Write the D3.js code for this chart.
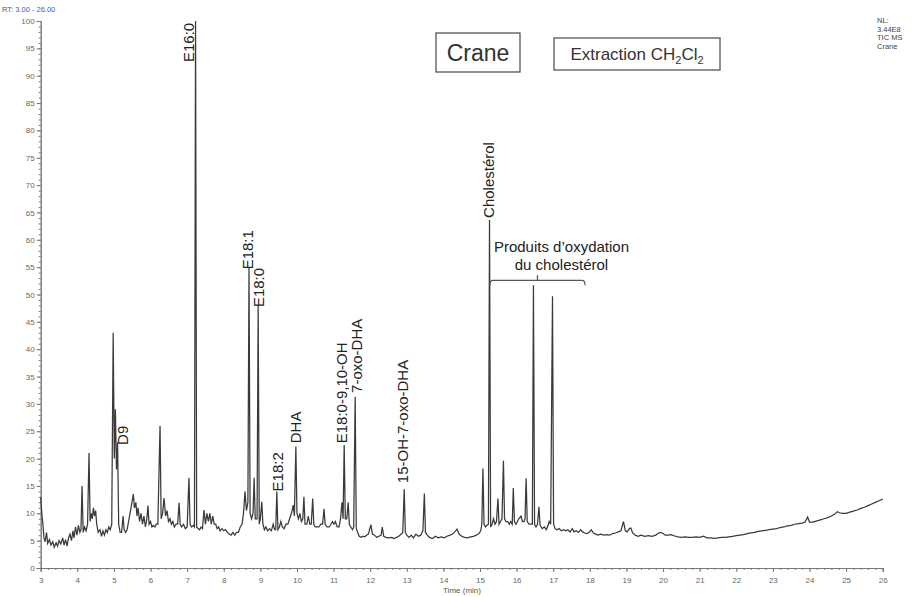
<!doctype html>
<html>
<head>
<meta charset="utf-8">
<style>
  body { margin: 0; background: #fff; }
  svg { font-family: "Liberation Sans", Arial, sans-serif; }
  .axis path, .axis line { stroke: #777; }
  .axis text { fill: #666; font-size: 8px; }
  .trace { fill: none; stroke: #3a3a3a; stroke-width: 1.25; }
  .lbl { fill: #222; font-size: 15px; }
</style>
<script src="https://d3js.org/d3.v7.min.js"></script>
</head>
<body>
<script>
// chromatogram trace: [retention time (min), relative abundance (%)]
var trace = [
  [3.00,13],[3.03,10],[3.06,8],[3.09,5.5],[3.12,4.8],[3.16,6.5],[3.19,4.5],[3.24,5.2],[3.28,4.2],[3.33,4.8],
  [3.37,3.8],[3.42,4.6],[3.46,4.0],[3.50,5.0],[3.55,4.4],[3.60,5.5],[3.64,4.2],[3.68,5.2],[3.72,4.0],[3.76,5.5],
  [3.80,6.2],[3.84,5.0],[3.88,6.8],[3.91,5.5],[3.95,7.5],[3.99,6.0],[4.03,7.8],[4.07,6.5],[4.10,7.0],[4.13,15],
  [4.16,6.5],[4.20,7.5],[4.24,6.8],[4.28,8.0],[4.32,21],[4.35,8.5],[4.38,10],[4.41,9],[4.44,11],[4.47,9.5],
  [4.50,10.5],[4.53,8],[4.57,6.5],[4.62,7],[4.66,5.8],[4.70,6.8],[4.74,6.0],[4.78,7.0],[4.82,6.5],[4.86,7.5],
  [4.90,7.0],[4.94,8],[4.98,43],[5.01,20],[5.04,29],[5.07,18],[5.10,23],[5.13,8],[5.17,6.5],[5.21,6.5],
  [5.25,9.5],[5.28,7],[5.32,6.5],[5.36,7],[5.40,8.5],[5.44,10],[5.48,11.5],[5.53,13.5],[5.56,11],[5.60,12],
  [5.63,9.5],[5.66,11],[5.70,8.5],[5.74,10],[5.78,8],[5.82,9.5],[5.86,7.5],[5.90,9],[5.93,11.4],[5.96,8],
  [6.00,8.5],[6.04,7.5],[6.08,7.8],[6.12,7.5],[6.16,8],[6.20,8],[6.26,26],[6.29,9],[6.33,10],[6.37,12.8],
  [6.41,9.5],[6.45,10.5],[6.49,8.5],[6.53,9],[6.57,8],[6.61,8.5],[6.65,7.5],[6.70,8],[6.74,8],[6.78,11.9],
  [6.81,8],[6.85,7.5],[6.90,8],[6.95,7.2],[7.00,7.5],[7.05,16.5],[7.08,8],[7.12,7.5],[7.17,7.8],[7.20,7.5],
  [7.23,100],[7.26,7.5],[7.30,7.2],[7.34,7.0],[7.38,7.5],[7.42,7.2],[7.46,10.6],[7.50,8],[7.54,10],[7.58,8.5],
  [7.62,10],[7.66,8],[7.70,9.5],[7.74,8],[7.78,8],[7.82,7.2],[7.86,7.5],[7.90,6.8],[7.95,7.2],[8.00,6.8],
  [8.05,7.0],[8.10,6.5],[8.15,6.2],[8.20,6.0],[8.25,6.5],[8.30,6.0],[8.35,6.5],[8.40,6.5],[8.45,7.5],[8.50,8],
  [8.54,10],[8.58,14],[8.62,10.5],[8.66,12],[8.69,55],[8.72,10],[8.76,9],[8.80,10],[8.83,16.5],[8.86,9],
  [8.91,9],[8.94,48],[8.97,8],[9.00,9],[9.04,12.1],[9.07,8],[9.11,7],[9.15,7.5],[9.20,6.8],[9.25,7.2],
  [9.30,6.8],[9.35,8],[9.39,7],[9.42,7],[9.45,14],[9.48,7],[9.52,7.5],[9.56,8.5],[9.60,7.5],[9.65,7.2],
  [9.70,8],[9.75,8],[9.80,9],[9.85,10],[9.90,11.5],[9.93,9.5],[9.97,22.2],[10.00,10],[10.04,9],[10.08,10],
  [10.12,8.5],[10.16,9],[10.19,13],[10.22,8],[10.27,8],[10.31,9.5],[10.35,8],[10.39,8],[10.43,12.7],[10.46,8],
  [10.50,7.5],[10.55,7.5],[10.60,7.5],[10.65,8],[10.70,8],[10.74,10.8],[10.77,8],[10.82,7.5],[10.88,7.5],[10.93,8],
  [10.97,8.5],[11.01,8],[11.05,8.5],[11.10,7.5],[11.15,7.5],[11.19,9],[11.23,12],[11.26,9],[11.29,22.5],[11.32,9],
  [11.36,9],[11.40,12],[11.43,8],[11.47,7.5],[11.52,7],[11.55,7.5],[11.59,31.3],[11.62,7.2],[11.66,6.5],[11.70,5.8],
  [11.75,5.6],[11.80,5.8],[11.85,5.7],[11.90,6],[11.95,6.2],[12.02,7.9],[12.06,6.2],[12.12,6.0],[12.18,5.6],[12.24,5.8],
  [12.30,6.0],[12.33,7.5],[12.37,5.8],[12.43,5.6],[12.50,5.5],[12.58,5.6],[12.65,5.4],[12.72,5.6],[12.78,5.8],[12.85,6.2],
  [12.89,6.5],[12.93,14.4],[12.96,6.5],[13.00,6.0],[13.06,5.6],[13.12,6.0],[13.18,5.5],[13.25,6.2],[13.32,5.8],[13.38,6.0],
  [13.44,6.8],[13.48,13.6],[13.51,6.5],[13.56,6.0],[13.62,5.6],[13.70,5.4],[13.78,5.8],[13.86,5.5],[13.94,5.7],[14.02,5.5],
  [14.10,5.8],[14.18,6.0],[14.25,6.2],[14.31,6.6],[14.37,7.1],[14.43,6.2],[14.50,5.8],[14.58,5.6],[14.66,5.5],[14.74,5.7],
  [14.82,5.8],[14.90,6.0],[14.97,6.3],[15.02,6.8],[15.05,8],[15.08,18.2],[15.11,8],[15.15,7.5],[15.19,7.8],[15.23,8],
  [15.26,63.6],[15.29,7.5],[15.33,8],[15.37,9],[15.41,8],[15.45,8.5],[15.49,12.7],[15.52,8],[15.56,8.5],[15.60,9],
  [15.64,19.6],[15.67,9],[15.71,8.5],[15.76,8.5],[15.80,8],[15.84,8.5],[15.88,8],[15.91,14.6],[15.94,8.5],[15.98,8],
  [16.02,8.5],[16.06,9],[16.12,9.5],[16.16,8.5],[16.20,8.5],[16.23,9],[16.26,16.4],[16.29,8.5],[16.34,8],[16.39,8],
  [16.43,8],[16.46,51.7],[16.49,8],[16.53,7.5],[16.57,8],[16.61,11.2],[16.64,7.8],[16.70,7.2],[16.76,7.5],[16.81,7],
  [16.86,7.8],[16.89,8.5],[16.93,8],[16.98,49.7],[17.01,8],[17.05,7.2],[17.10,7.0],[17.16,7.2],[17.22,6.8],[17.28,7.0],
  [17.34,6.8],[17.40,7.0],[17.46,6.6],[17.52,7.2],[17.57,6.6],[17.63,6.8],[17.69,6.5],[17.75,7.0],[17.80,6.6],[17.86,6.4],
  [17.92,6.3],[17.98,6.5],[18.04,7.0],[18.10,6.4],[18.16,6.2],[18.22,6.0],[18.30,6.2],[18.38,6.0],[18.46,6.1],[18.54,6.0],
  [18.62,6.3],[18.70,6.4],[18.78,6.6],[18.85,6.8],[18.92,8.5],[18.97,6.8],[19.02,6.6],[19.08,7.2],[19.12,7.3],[19.17,6.4],
  [19.24,6.0],[19.32,5.8],[19.40,6.0],[19.50,5.8],[19.60,5.9],[19.70,5.8],[19.80,6.0],[19.86,6.3],[19.92,6.5],[19.98,6.4],
  [20.06,6.0],[20.14,6.0],[20.22,6.1],[20.30,5.9],[20.40,5.7],[20.50,5.6],[20.60,5.7],[20.70,5.6],[20.80,5.6],[20.90,5.7],
  [21.00,5.6],[21.10,5.8],[21.20,5.5],[21.30,5.5],[21.40,5.4],[21.50,5.5],[21.60,5.6],[21.70,5.6],[21.80,5.7],[21.90,5.8],
  [22.00,5.9],[22.10,6.0],[22.20,6.1],[22.30,6.3],[22.40,6.4],[22.50,6.5],[22.60,6.7],[22.70,6.8],[22.80,6.9],[22.90,7.0],
  [23.00,7.1],[23.10,7.2],[23.20,7.4],[23.30,7.5],[23.40,7.7],[23.50,7.8],[23.60,8.0],[23.70,8.1],[23.80,8.2],[23.88,8.4],
  [23.95,9.3],[24.00,8.4],[24.10,8.4],[24.20,8.6],[24.30,8.8],[24.40,9.0],[24.50,9.2],[24.60,9.5],[24.70,9.9],[24.76,10.3],
  [24.82,10.1],[24.90,10.0],[25.00,10.0],[25.10,10.2],[25.20,10.4],[25.30,10.6],[25.40,10.9],[25.50,11.1],[25.60,11.4],[25.70,11.7],
  [25.80,12.0],[25.90,12.3],[26.00,12.6]
];

// peak labels: name, retention time, abundance where the label starts
var peakNames = ["E16:0", "D9", "E18:1", "E18:0", "E18:2", "DHA", "E18:0-9,10-OH", "7-oxo-DHA", "15-OH-7-oxo-DHA", "Cholestérol"];
var peakRt    = [7.05, 5.25, 8.66, 8.96, 9.47, 9.98, 11.21, 11.62, 12.90, 15.25];
var peakLevel = [92.5, 22.5, 54.6, 47.7, 14.0, 22.8, 22.8, 32.0, 15.5, 64.0];

// bracket for oxidation products
var bracketRt = [15.27, 17.87];
var bracketLevel = 52.6;
var bracketText = ["Produits d\u2019oxydation", "du cholestérol"];

var xTicks = d3.range(3, 27, 1);
var yTicks = d3.range(0, 101, 5);
var headerInfo = ["NL:", "3.44E8", "TIC  MS", "Crane"];

var width = 920, height = 597;
var svg = d3.select("body").append("svg")
    .attr("width", width)
    .attr("height", height);

var x = d3.scaleLinear().domain([3, 26]).range([40.7, 882.7]);
var y = d3.scaleLinear().domain([0, 100]).range([568, 21]);

// x axis, major + minor ticks
svg.append("g").attr("class", "axis")
    .attr("transform", "translate(0,568)")
    .call(d3.axisBottom(x).tickValues(d3.range(3, 26.01, 0.2)).tickSize(2).tickFormat(""));
svg.append("g").attr("class", "axis")
    .attr("transform", "translate(0,568)")
    .call(d3.axisBottom(x).tickValues(xTicks).tickSize(4).tickPadding(5).tickFormat(d3.format("d")))
    .call(g => g.selectAll("text").attr("font-size", "9px"));

// y axis
svg.append("g").attr("class", "axis")
    .attr("transform", "translate(40.7,0)")
    .call(d3.axisLeft(y).tickValues(d3.range(0, 100.1, 1)).tickSize(2).tickFormat(""));
svg.append("g").attr("class", "axis")
    .attr("transform", "translate(40.7,0)")
    .call(d3.axisLeft(y).tickValues(yTicks).tickSize(4).tickPadding(2).tickFormat(d3.format("d")));

svg.append("text")
    .attr("x", 462).attr("y", 593)
    .attr("text-anchor", "middle")
    .attr("font-size", "8px").attr("fill", "#555")
    .text("Time (min)");

// the trace
var line = d3.line().x(d => x(d[0])).y(d => y(d[1]));
svg.append("path").datum(trace).attr("class", "trace").attr("d", line);

// rotated peak labels
peakNames.forEach(function(name, i) {
    var px = x(peakRt[i]), py = y(peakLevel[i]);
    svg.append("text")
        .attr("class", "lbl")
        .attr("transform", "translate(" + px + "," + py + ") rotate(-90)")
        .attr("dy", "0.35em")
        .text(name);
});

// bracket
var bx0 = x(bracketRt[0]), bx1 = x(bracketRt[1]), by = y(bracketLevel);
var bmid = (bx0 + bx1) / 2;
svg.append("path")
    .attr("fill", "none").attr("stroke", "#555").attr("stroke-width", 1.3)
    .attr("d", "M" + bx0 + "," + (by + 5) + "Q" + bx0 + "," + by + " " + (bx0 + 3) + "," + by +
               "L" + (bx1 - 3) + "," + by + "Q" + bx1 + "," + by + " " + bx1 + "," + (by + 5) +
               "M" + bmid + "," + by + "L" + bmid + "," + (by - 5));
bracketText.forEach(function(t, i) {
    svg.append("text").attr("class", "lbl")
        .attr("x", bmid + 24).attr("y", by - 28 + i * 18)
        .attr("text-anchor", "middle")
        .text(t);
});

// title boxes
svg.append("rect").attr("x", 436).attr("y", 33).attr("width", 84).attr("height", 39)
    .attr("fill", "none").attr("stroke", "#555").attr("stroke-width", 1.3);
svg.append("text").attr("x", 478).attr("y", 61).attr("text-anchor", "middle")
    .attr("font-size", "23px").attr("fill", "#333").text("Crane");

svg.append("rect").attr("x", 554).attr("y", 38).attr("width", 166).attr("height", 32)
    .attr("fill", "none").attr("stroke", "#555").attr("stroke-width", 1.3);
var ext = svg.append("text").attr("x", 637).attr("y", 60).attr("text-anchor", "middle")
    .attr("font-size", "17px").attr("fill", "#333");
ext.append("tspan").text("Extraction CH");
ext.append("tspan").attr("font-size", "11px").attr("dy", 4).text("2");
ext.append("tspan").attr("dy", -4).text("Cl");
ext.append("tspan").attr("font-size", "11px").attr("dy", 4).text("2");

// header info
var rt = svg.append("text").attr("x", 2).attr("y", 12).attr("font-size", "7.5px");
rt.append("tspan").attr("fill", "#555").text("RT: ");
rt.append("tspan").attr("fill", "#4a55c8").text("3.00 - 26.00");

svg.selectAll(".hdr").data(headerInfo).enter().append("text")
    .attr("class", "hdr")
    .attr("x", 877).attr("y", (d, i) => 23 + i * 8.5)
    .attr("font-size", "7.5px").attr("fill", "#444")
    .text(d => d);
</script>
</body>
</html>
